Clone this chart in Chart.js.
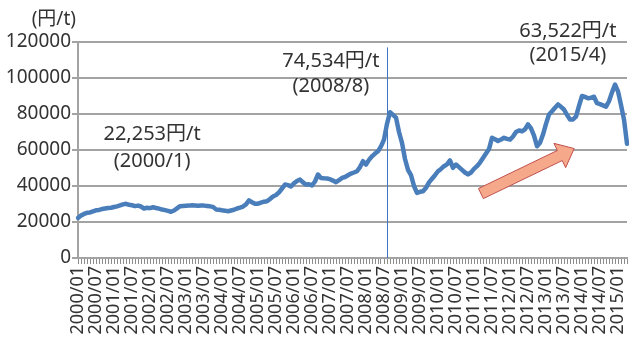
<!DOCTYPE html>
<html>
<head>
<meta charset="utf-8">
<script src="https://cdn.jsdelivr.net/npm/chart.js@4.4.1/dist/chart.umd.min.js"></script>
<style>
  html, body { margin: 0; padding: 0; background: #fff; }
  #wrap { width: 629px; height: 347px; position: relative; }
</style>
</head>
<body>
<div id="wrap"><canvas id="priceChart"></canvas></div>
<script>
// monthly price, 2000/01 .. 2015/04 (円/t)
const startYear = 2000;
const prices = [
  22253, 23600, 24500, 25100, 25300, 25900, 26500, 26700, 27200, 27500, 27800, 27900, // 2000
  28300, 28700, 29200, 29800, 30100, 29600, 29300, 28800, 29100, 28600, 27500, 27900, // 2001
  27700, 28200, 27800, 27400, 26900, 26600, 26200, 25700, 26400, 27600, 28800, 28900, // 2002
  29000, 29100, 29300, 29200, 29000, 29200, 29100, 28900, 28700, 28400, 27000, 26800, // 2003
  26500, 26300, 26000, 26400, 26800, 27500, 28000, 28600, 29800, 32000, 31000, 30100, // 2004
  30200, 30800, 31300, 31500, 32800, 34200, 35000, 36500, 38600, 40800, 40500, 39700, // 2005
  41500, 42800, 43600, 42000, 40800, 41000, 40300, 42500, 46400, 44500, 44300, 44200, // 2006
  43800, 43000, 42100, 43200, 44500, 45000, 46000, 46900, 47500, 48200, 50500, 53800, // 2007
  51900, 54500, 56500, 58000, 59300, 62000, 65800, 74534, 81000, 79500, 78000, 70000, // 2008
  64000, 55000, 49000, 46000, 40000, 36200, 36800, 37100, 39000, 42000, 44000, 46000, // 2009
  48200, 49500, 51000, 52000, 54200, 50100, 51900, 50500, 49000, 47500, 46400, 47500, // 2010
  49500, 51000, 53000, 55500, 58000, 60500, 66800, 66000, 65000, 65800, 66800, 66200, // 2011
  65800, 67500, 70000, 70800, 70400, 71500, 74200, 72000, 68000, 62100, 64000, 68600, // 2012
  74500, 79700, 81500, 83500, 85300, 84000, 82500, 79500, 76900, 77000, 78500, 84500, // 2013
  90000, 89500, 88700, 89000, 89600, 86000, 85500, 84800, 84100, 87100, 92000, 96400, // 2014
  92600, 85000, 76900, 63522                                                          // 2015
];

const months = [];
for (let i = 0; i < prices.length; i++) {
  const yr = startYear + Math.floor(i / 12);
  const mo = (i % 12) + 1;
  months.push(yr + '/' + String(mo).padStart(2, '0'));
}

// y axis
const yMin = 0;
const yMax = 120000;
const yStep = 20000;
const unit = '円/t';

// months called out on the chart
const calloutMonths = ['2000/01', '2008/08', '2015/04'];

const FONT = '"Noto Sans", "Noto Sans CJK JP", sans-serif';
const TEXT = '#333';
const GRID = '#a3a3a3';
const LINE = '#4a7ebb';

function monthText(label) {
  const [yr, mo] = label.split('/');
  return '(' + yr + '/' + Number(mo) + ')';
}

const callouts = {
  id: 'callouts',
  beforeDatasetsDraw(chart) {
    const { ctx, scales: { x, y } } = chart;
    // marker line at the 2008/08 price
    const px = Math.round(x.getPixelForValue(months.indexOf(calloutMonths[1]))) + 0.5;
    ctx.save();
    ctx.strokeStyle = '#3f75c0';
    ctx.lineWidth = 1;
    ctx.beginPath();
    ctx.moveTo(px, y.getPixelForValue(117000));
    ctx.lineTo(px, y.getPixelForValue(0));
    ctx.stroke();
    ctx.restore();
  },
  afterDatasetsDraw(chart) {
    const { ctx, chartArea, scales: { x, y } } = chart;
    ctx.save();
    ctx.fillStyle = TEXT;
    ctx.textBaseline = 'middle';

    // unit label above the y axis
    ctx.font = '19px ' + FONT;
    ctx.textAlign = 'right';
    ctx.fillText('(' + unit + ')', chartArea.left - 2, chartArea.top - 22);

    // price callouts: [month, text centre index, first line value, second line value]
    const spots = [
      [calloutMonths[0], 24.7, 68600, 53600],
      [calloutMonths[1], 84.3, 109300, 95300],
      [calloutMonths[2], 163.3, 125800, 112500]
    ];
    ctx.font = '20px ' + FONT;
    ctx.textAlign = 'center';
    spots.forEach(([m, cx, v1, v2]) => {
      const v = prices[months.indexOf(m)];
      const tx = x.getPixelForValue(cx);
      ctx.fillText(v.toLocaleString('en-US') + unit, tx, y.getPixelForValue(v1));
      ctx.fillText(monthText(m), tx, y.getPixelForValue(v2));
    });

    // upward trend arrow
    const x0 = x.getPixelForValue(134.3), y0 = y.getPixelForValue(35800);
    const x1 = x.getPixelForValue(165.4), y1 = y.getPixelForValue(60800);
    const len = Math.hypot(x1 - x0, y1 - y0);
    const ux = (x1 - x0) / len, uy = (y1 - y0) / len;
    const nx = -uy, ny = ux;
    const shaft = 5.6, head = 13.5, headLen = 16;
    const bx = x1 - ux * headLen, by = y1 - uy * headLen;
    ctx.beginPath();
    ctx.moveTo(x0 + nx * shaft, y0 + ny * shaft);
    ctx.lineTo(bx + nx * shaft, by + ny * shaft);
    ctx.lineTo(bx + nx * head, by + ny * head);
    ctx.lineTo(x1, y1);
    ctx.lineTo(bx - nx * head, by - ny * head);
    ctx.lineTo(bx - nx * shaft, by - ny * shaft);
    ctx.lineTo(x0 - nx * shaft, y0 - ny * shaft);
    ctx.closePath();
    ctx.fillStyle = '#f5a88a';
    ctx.fill();
    ctx.strokeStyle = '#c0504d';
    ctx.lineWidth = 1;
    ctx.stroke();
    ctx.restore();
  }
};

new Chart(document.getElementById('priceChart'), {
  type: 'line',
  data: {
    labels: months,
    datasets: [{
      data: prices,
      borderColor: LINE,
      borderWidth: 4.5,
      pointRadius: 0,
      tension: 0,
      borderJoinStyle: 'round',
      borderCapStyle: 'round'
    }]
  },
  options: {
    responsive: true,
    maintainAspectRatio: false,
    animation: false,
    devicePixelRatio: 1,
    layout: { padding: { top: 42, right: 2, left: 0, bottom: 0 } },
    plugins: {
      legend: { display: false },
      tooltip: { enabled: false }
    },
    scales: {
      x: {
        offset: false,
        grid: {
          display: true,
          drawOnChartArea: false,
          drawTicks: true,
          tickLength: 6,
          color: '#8c8c8c',
          lineWidth: 1
        },
        border: { display: true, color: GRID, width: 2 },
        ticks: {
          autoSkip: false,
          maxRotation: 90,
          minRotation: 90,
          padding: 2,
          color: TEXT,
          font: { family: FONT, size: 18 },
          callback: (v, i) => (i % 6 === 0 ? months[i] : '')
        },
        afterFit(s) {
          s.height = 89;
          s.paddingLeft = 0;
          s.paddingRight = 0;
        }
      },
      y: {
        min: yMin,
        max: yMax,
        grid: {
          color: GRID,
          lineWidth: 2,
          drawTicks: true,
          tickLength: 6
        },
        border: { display: true, color: GRID, width: 2 },
        ticks: {
          stepSize: yStep,
          padding: 1,
          color: TEXT,
          font: { family: FONT, size: 19 },
          callback: (v) => String(v)
        },
        afterFit(s) {
          s.width = 78;
        }
      }
    }
  },
  plugins: [callouts]
});
</script>
</body>
</html>
